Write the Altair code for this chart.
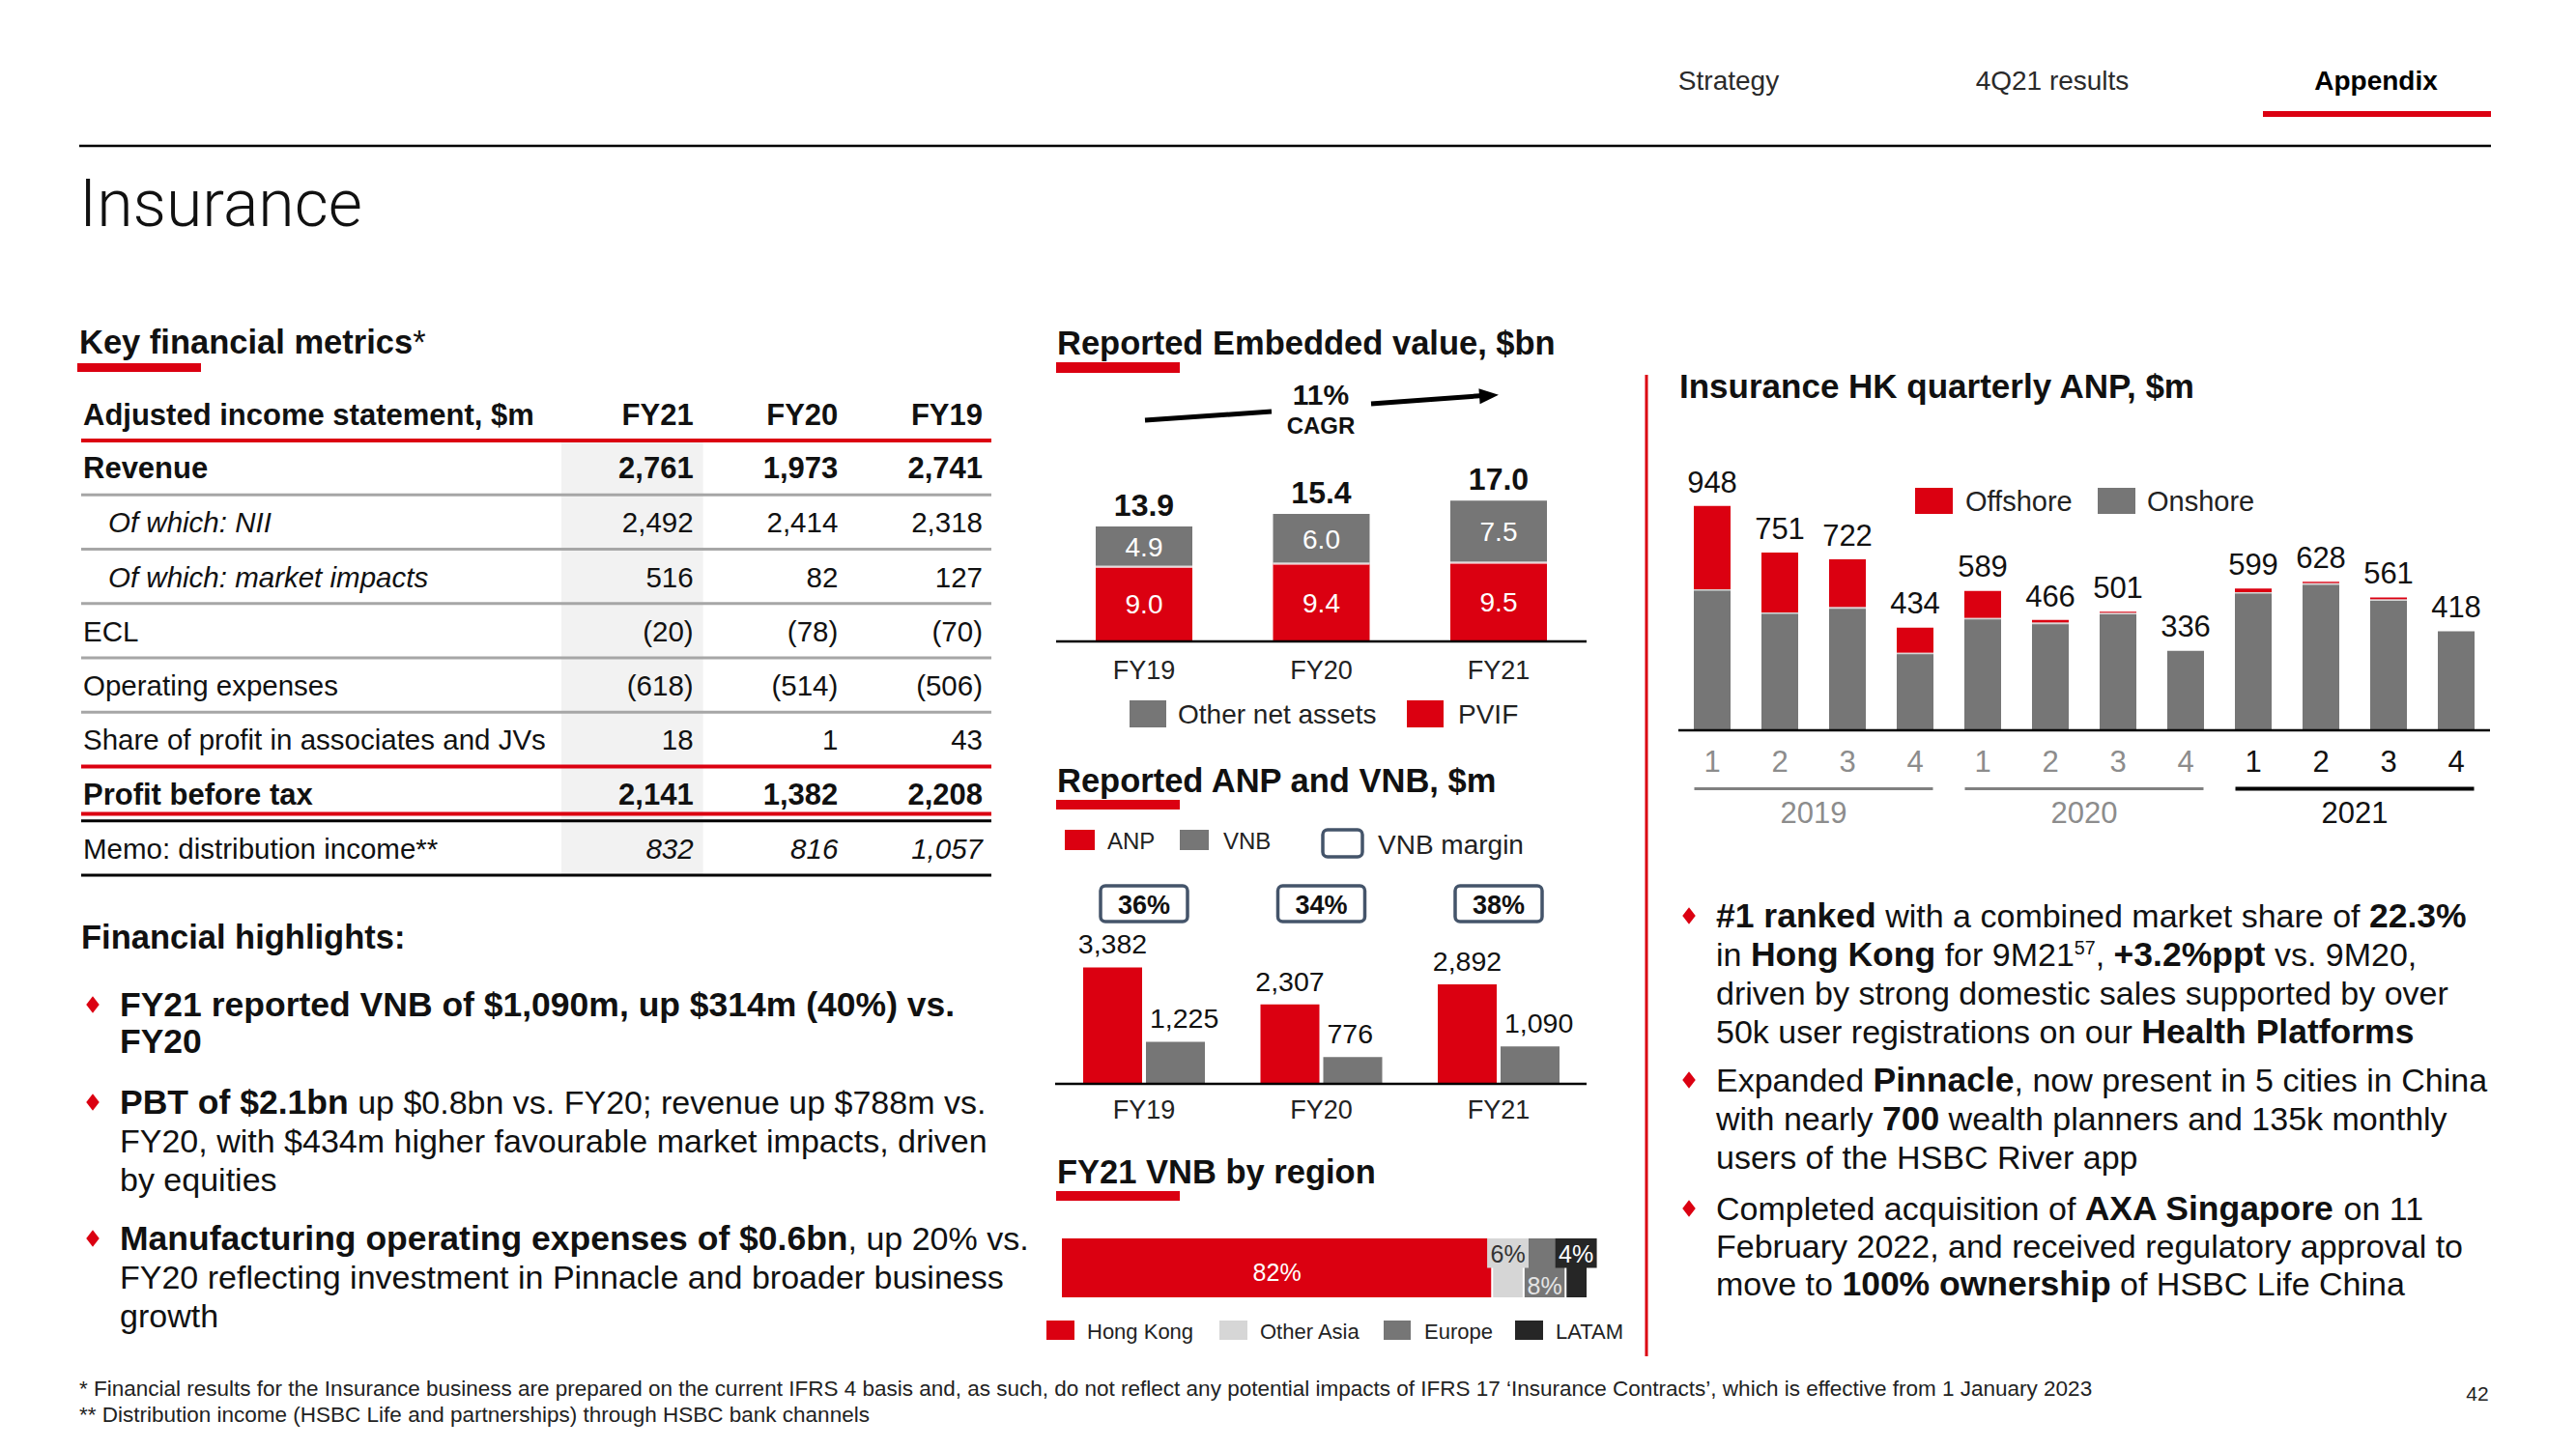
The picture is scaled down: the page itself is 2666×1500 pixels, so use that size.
import altair as alt
import pandas as pd

# ====================== DATA ======================
table_rows = ["Revenue", "Of which: NII", "Of which: market impacts", "ECL",
              "Operating expenses", "Share of profit in associates and JVs",
              "Profit before tax", "Memo: distribution income**"]
table_cols = ["FY21", "FY20", "FY19"]
fy21_vals = [2761, 2492, 516, -20, -618, 18, 2141, 832]
fy20_vals = [1973, 2414, 82, -78, -514, 1, 1382, 816]
fy19_vals = [2741, 2318, 127, -70, -506, 43, 2208, 1057]

ev_years = ["FY19", "FY20", "FY21"]
ev_pvif = [9.0, 9.4, 9.5]
ev_other = [4.9, 6.0, 7.5]
ev_total = [13.9, 15.4, 17.0]

anp_years = ["FY19", "FY20", "FY21"]
anp_vals = [3382, 2307, 2892]
vnb_vals = [1225, 776, 1090]
vnb_margin = [36, 34, 38]

regions = ["Hong Kong", "Other Asia", "Europe", "LATAM"]
region_share = [82, 6, 8, 4]

hk_years = ["2019"] * 4 + ["2020"] * 4 + ["2021"] * 4
hk_quarters = ["1", "2", "3", "4"] * 3
hk_total = [948, 751, 722, 434, 589, 466, 501, 336, 599, 628, 561, 418]
hk_onshore = [596, 498, 520, 328, 475, 455, 496, 336, 584, 621, 553, 418]
hk_offshore = [352, 253, 202, 106, 114, 11, 5, 0, 15, 7, 8, 0]

# ====================== STYLE ======================
FONT = "Liberation Sans"
RED = "#DB0011"
GREY = "#767676"
LIGHT = "#D6D6D6"
DARK = "#262626"
SLATE = "#44546A"
SHADE = "#F2F2F2"
RULE_GREY = "#A6A6A6"
INK = "#111111"
OFF = 8
W, H = 2640, 1476


def P(v):
    return v - OFF


REG_W = [278, 278, 355, 556, 556, 889, 667, 191, 333, 333, 389, 584, 278, 333, 278, 278,
         556, 556, 556, 556, 556, 556, 556, 556, 556, 556, 278, 278, 584, 584, 584, 556,
         1015, 667, 667, 722, 722, 667, 611, 778, 722, 278, 500, 667, 556, 833, 722, 778,
         667, 778, 722, 667, 611, 722, 667, 944, 667, 667, 611, 278, 278, 278, 469, 556,
         333, 556, 556, 500, 556, 556, 278, 556, 556, 222, 222, 500, 222, 833, 556, 556,
         556, 556, 333, 500, 278, 556, 500, 722, 500, 500, 500, 334, 260, 334, 584]
BOLD_W = [278, 333, 474, 556, 556, 889, 722, 238, 333, 333, 389, 584, 278, 333, 278, 278,
          556, 556, 556, 556, 556, 556, 556, 556, 556, 556, 333, 333, 584, 584, 584, 611,
          975, 722, 722, 722, 722, 667, 611, 778, 722, 278, 556, 722, 611, 833, 722, 778,
          667, 778, 722, 667, 611, 722, 667, 944, 667, 667, 611, 333, 278, 333, 584, 556,
          333, 556, 611, 556, 611, 556, 333, 611, 611, 278, 278, 556, 278, 889, 611, 611,
          611, 611, 389, 556, 333, 611, 556, 778, 556, 556, 500, 389, 280, 389, 584]


def tw(s, bold=False):
    tab = BOLD_W if bold else REG_W
    tot = 0
    for ch in s:
        o = ord(ch)
        if 32 <= o <= 126:
            tot += tab[o - 32]
        elif ch in "\u2018\u2019":
            tot += 278 if bold else 222
        else:
            tot += 556
    return tot / 1000.0


# ---------------- text / decoration tables ----------------
TEXTS = []


def text_at(x, base, s, size, color=INK, weight="normal", style="normal", align="left", font=FONT):
    TEXTS.append(dict(x=P(x), y=P(base), t=s, size=size, color=color, weight=str(weight),
                      style=style, align=align, font=font))


def text_c(x, yc, s, size, **kw):
    text_at(x, yc + 0.36 * size, s, size, **kw)


def rich(x0, yc, segs, size, bsize=None, color=INK):
    bsize = bsize or size
    base = yc + 0.36 * size
    x = x0
    for s, kind in segs:
        if kind == "sup":
            fs = round(size * 0.58, 1)
            text_at(x, base - 0.36 * size, s, fs, color=color)
            x += tw(s) * fs
            continue
        bold = kind == "b"
        fs = bsize if bold else size
        lead = len(s) - len(s.lstrip(" "))
        trail = len(s) - len(s.rstrip(" "))
        core = s.strip(" ")
        x += tw(" " * lead, bold) * fs
        if core:
            text_at(x, base, core, fs, color=color, weight="bold" if bold else "normal")
        x += (tw(core, bold) + tw(" " * trail, bold)) * fs


RECTS = []


def rect(x0, y0, x1, y1, c):
    RECTS.append(dict(x=P(x0), y=P(y0), x2=P(x1), y2=P(y1), c=c))


LINES = []


def line(x0, y0, x1, y1, c, w):
    LINES.append(dict(x=P(x0), y=P(y0), x2=P(x1), y2=P(y1), c=c, w=w))


# header / nav
text_c(1789, 83, "Strategy", 28, color="#2a2a2a", align="center")
text_c(2124, 83, "4Q21 results", 28, color="#2a2a2a", align="center")
text_c(2459, 83, "Appendix", 28, color="#000000", weight="bold", align="center")
rect(2342, 115, 2578, 121, RED)
line(82, 151, 2578, 151, "#000000", 2.5)
text_c(82, 210, "Insurance", 68, color="#111111", weight=300, font="Roboto")

# section titles
rich(82, 354, [("Key financial metrics", "b"), ("*", "r")], 34.5)
rect(80, 376, 208, 385, RED)
text_c(1094, 355, "Reported Embedded value, $bn", 34.5, weight="bold")
rect(1093, 375, 1221, 386, RED)
text_c(1094, 808, "Reported ANP and VNB, $m", 34.5, weight="bold")
rect(1093, 828, 1221, 838, RED)
text_c(1094, 1213, "FY21 VNB by region", 34.5, weight="bold")
rect(1093, 1233, 1221, 1243, RED)
text_c(1738, 399, "Insurance HK quarterly ANP, $m", 35, weight="bold")
line(1704, 388, 1704, 1404, RED, 3)

# EV annotations + legend
text_c(1367, 408, "11%", 30, weight="bold", align="center")
text_c(1367, 440, "CAGR", 24, weight="bold", align="center")
line(1185, 435, 1316, 426, "#000000", 5)
line(1419, 418, 1535, 409.5, "#000000", 5)
rect(1169, 725, 1207, 753, GREY)
text_c(1219, 739, "Other net assets", 28, color="#222222")
rect(1456, 725, 1494, 753, RED)
text_c(1509, 739, "PVIF", 28, color="#222222")

# ANP legend
rect(1102, 859, 1133, 880, RED)
text_c(1146, 870, "ANP", 24, color="#222222")
rect(1221, 859, 1251, 880, GREY)
text_c(1266, 870, "VNB", 24, color="#222222")
text_c(1426, 874, "VNB margin", 28, color="#222222")

# region legend
for (x0, x1, c), (tx, lab) in zip(
        [(1083, 1112, RED), (1262, 1291, LIGHT), (1432, 1460, GREY), (1568, 1597, DARK)],
        [(1125, regions[0]), (1304, regions[1]), (1474, regions[2]), (1610, regions[3])]):
    rect(x0, 1367, x1, 1387, c)
    text_c(tx, 1378, lab, 22, color="#222222")

# HK legend
rect(1982, 505, 2021, 532, RED)
text_c(2034, 519, "Offshore", 29, color="#222222")
rect(2171, 505, 2210, 532, GREY)
text_c(2222, 519, "Onshore", 29, color="#222222")

# financial highlights
BS, BB = 34, 35.5
text_c(84, 970, "Financial highlights:", 34.5, weight="bold")
left_bullets = [
    (1040, [("FY21 reported VNB of $1,090m, up $314m (40%) vs.", "b")]),
    (1078, [("FY20", "b")]),
    (1141, [("PBT of $2.1bn", "b"), (" up $0.8bn vs. FY20; revenue up $788m vs.", "r")]),
    (1181, [("FY20, with $434m higher favourable market impacts, driven", "r")]),
    (1221, [("by equities", "r")]),
    (1282, [("Manufacturing operating expenses of $0.6bn", "b"), (", up 20% vs.", "r")]),
    (1322, [("FY20 reflecting investment in Pinnacle and broader business", "r")]),
    (1362, [("growth", "r")]),
]
for yc, segs in left_bullets:
    rich(124, yc, segs, BS, BB)

right_bullets = [
    (948, [("#1 ranked", "b"), (" with a combined market share of ", "r"), ("22.3%", "b")]),
    (988, [("in ", "r"), ("Hong Kong", "b"), (" for 9M21", "r"), ("57", "sup"), (", ", "r"),
           ("+3.2%ppt", "b"), (" vs. 9M20,", "r")]),
    (1028, [("driven by strong domestic sales supported by over", "r")]),
    (1068, [("50k user registrations on our ", "r"), ("Health Platforms", "b")]),
    (1118, [("Expanded ", "r"), ("Pinnacle", "b"), (", now present in 5 cities in China", "r")]),
    (1158, [("with nearly ", "r"), ("700", "b"), (" wealth planners and 135k monthly", "r")]),
    (1198, [("users of the HSBC River app", "r")]),
    (1251, [("Completed acquisition of ", "r"), ("AXA Singapore", "b"), (" on 11", "r")]),
    (1290, [("February 2022, and received regulatory approval to", "r")]),
    (1329, [("move to ", "r"), ("100% ownership", "b"), (" of HSBC Life China", "r")]),
]
for yc, segs in right_bullets:
    rich(1776, yc, segs, BS, BB)

DIAMONDS = [(96, 1040), (96, 1141), (96, 1282), (1748, 948), (1748, 1118), (1748, 1251)]

# footnotes
fn1 = ("* Financial results for the Insurance business are prepared on the current IFRS 4 basis and, "
       "as such, do not reflect any potential impacts of IFRS 17 \u2018Insurance Contracts\u2019, "
       "which is effective from 1 January 2023")
fn2 = "** Distribution income (HSBC Life and partnerships) through HSBC bank channels"
fn_size = round(2084 / tw(fn1), 1)
text_c(82, 1437, fn1, fn_size, color="#222222")
text_c(82, 1464, fn2, fn_size, color="#222222")
text_c(2564, 1442, "42", 21, color="#222222", align="center")

# ====================== TABLE ======================
value_style = ["bold", "normal", "normal", "normal", "normal", "normal", "bold", "italic"]
label_style = ["bold", "italic", "italic", "normal", "normal", "normal", "bold", "normal"]
HEADER_R = -0.48
TAB_SIZE = {"bold": 31, "normal": 29.5, "italic": 29.5}


def fmt(v):
    return f"({abs(v):,})" if v < 0 else f"{v:,}"


val_rows = []
for i in range(len(table_rows)):
    for c, vals in zip(table_cols, (fy21_vals, fy20_vals, fy19_vals)):
        val_rows.append({"r": i + 0.5, "col": c, "t": fmt(vals[i]), "sty": value_style[i]})
for c in table_cols:
    val_rows.append({"r": HEADER_R, "col": c, "t": c, "sty": "bold"})
val_df = pd.DataFrame(val_rows)

lab_rows = [{"r": i + 0.5, "t": t, "sty": label_style[i]} for i, t in enumerate(table_rows)]
lab_rows.append({"r": HEADER_R, "t": "Adjusted income statement, $m", "sty": "bold"})
lab_df = pd.DataFrame(lab_rows)

rule_df = pd.DataFrame({
    "b": [0, 1, 2, 3, 4, 5, 6, 6.87, 7.0, 8],
    "c": [RED, RULE_GREY, RULE_GREY, RULE_GREY, RULE_GREY, RULE_GREY, RED, RED, "#000000", "#000000"],
    "w": [4, 3, 3, 3, 3, 3, 4, 4, 3, 3],
})
shade_df = pd.DataFrame({"col": ["FY21"], "r0": [0], "r1": [8]})

tab_x = alt.Scale(domain=table_cols, range=[P(581), P(1027)], paddingInner=0.02, paddingOuter=0)
tab_y = alt.Scale(domain=[0, 8], range=[P(456), P(906)], nice=False)

tab_layers = [
    alt.Chart(shade_df).mark_rect(color=SHADE).encode(
        x=alt.X("col:N", scale=tab_x, axis=None), y=alt.Y("r0:Q", scale=tab_y, axis=None), y2="r1:Q"),
    alt.Chart(rule_df).mark_rule().encode(
        y=alt.Y("b:Q", scale=tab_y, axis=None), x=alt.value(P(84)), x2=alt.value(P(1026)),
        color=alt.Color("c:N", scale=None), strokeWidth=alt.StrokeWidth("w:Q", scale=None)),
]
for sty in ["bold", "normal", "italic"]:
    tab_layers.append(
        alt.Chart(val_df).transform_filter(alt.datum.sty == sty).mark_text(
            align="right", baseline="middle", dx=-10, dy=2, fontSize=TAB_SIZE[sty], font=FONT, color=INK,
            fontWeight="bold" if sty == "bold" else "normal",
            fontStyle="italic" if sty == "italic" else "normal").encode(
            x=alt.X("col:N", scale=tab_x, axis=None, bandPosition=1),
            y=alt.Y("r:Q", scale=tab_y, axis=None), text="t:N"))
    tab_layers.append(
        alt.Chart(lab_df).transform_filter(alt.datum.sty == sty).mark_text(
            align="left", baseline="middle", dy=2, fontSize=TAB_SIZE[sty], font=FONT, color=INK,
            fontWeight="bold" if sty == "bold" else "normal",
            fontStyle="italic" if sty == "italic" else "normal").encode(
            x=alt.value(P(112) if sty == "italic" else P(86)),
            y=alt.Y("r:Q", scale=tab_y, axis=None), text="t:N"))
table_layer = alt.layer(*tab_layers)

# ====================== EMBEDDED VALUE ======================
ev_x = alt.Scale(domain=ev_years, range=[P(1092.25), P(1642.75)], paddingInner=0.455, paddingOuter=0.2275)
ev_y = alt.Scale(domain=[0, 20], range=[P(664), P(664 - 171.4)], nice=False)
seg_rows = []
for i, yr in enumerate(ev_years):
    seg_rows.append(dict(year=yr, part="PVIF", y0=0.0, y1=ev_pvif[i], c=RED, lab=f"{ev_pvif[i]:.1f}"))
    seg_rows.append(dict(year=yr, part="Other net assets", y0=ev_pvif[i], y1=ev_pvif[i] + ev_other[i],
                         c=GREY, lab=f"{ev_other[i]:.1f}"))
ev_seg = pd.DataFrame(seg_rows)
ev_seg["mid"] = (ev_seg["y0"] + ev_seg["y1"]) / 2
ev_tot = pd.DataFrame({"year": ev_years, "total": ev_total, "lab": [f"{v:.1f}" for v in ev_total]})
EVX = alt.X("year:N", scale=ev_x, axis=None)
ev_layer = alt.layer(
    alt.Chart(ev_seg).mark_bar().encode(
        x=EVX, y=alt.Y("y0:Q", scale=ev_y, axis=None), y2="y1:Q", color=alt.Color("c:N", scale=None)),
    alt.Chart(ev_seg).transform_filter(alt.datum.y0 > 0).mark_tick(color="white", thickness=2.5, size=100).encode(
        x=EVX, y=alt.Y("y0:Q", scale=ev_y, axis=None)),
    alt.Chart(ev_seg).mark_text(color="white", fontSize=28, baseline="middle", dy=2, font=FONT).encode(
        x=EVX, y=alt.Y("mid:Q", scale=ev_y), text="lab:N"),
    alt.Chart(ev_tot).mark_text(color=INK, fontSize=32, fontWeight="bold", baseline="middle", dy=-21, font=FONT).encode(
        x=EVX, y=alt.Y("total:Q", scale=ev_y), text="lab:N"),
    alt.Chart(ev_tot).mark_text(color="#222222", fontSize=27, baseline="middle", dy=31, font=FONT).encode(
        x=EVX, y=alt.datum(0), text="year:N"),
    alt.Chart(pd.DataFrame({"z": [0]})).mark_rule(color="#000000", strokeWidth=2.5).encode(
        y=alt.Y("z:Q", scale=ev_y), x=alt.value(P(1093)), x2=alt.value(P(1642))),
)

# ====================== ANP & VNB ======================
anp_x = alt.Scale(domain=anp_years, range=[P(1092.25), P(1642.75)], paddingInner=0.3134, paddingOuter=0.1567)
anp_xo = alt.Scale(domain=["ANP", "VNB"], paddingInner=0.0615, paddingOuter=0)
anp_y = alt.Scale(domain=[0, 4000], range=[P(1122), P(1122 - 142.4)], nice=False)
anp_df = pd.DataFrame({"year": anp_years * 2, "series": ["ANP"] * 3 + ["VNB"] * 3, "v": anp_vals + vnb_vals})
anp_df["lab"] = anp_df["v"].map(lambda v: f"{v:,}")
anp_df["c"] = anp_df["series"].map({"ANP": RED, "VNB": GREY})
mar_df = pd.DataFrame({"year": anp_years, "lab": [f"{m}%" for m in vnb_margin]})
AX = alt.X("year:N", scale=anp_x, axis=None)
AXO = alt.XOffset("series:N", scale=anp_xo)
anp_layer = alt.layer(
    alt.Chart(anp_df).mark_bar().encode(
        x=AX, xOffset=AXO, y=alt.Y("v:Q", scale=anp_y, axis=None), color=alt.Color("c:N", scale=None)),
    alt.Chart(anp_df).transform_filter(alt.datum.series == "ANP").mark_text(
        color=INK, fontSize=28.5, baseline="middle", dy=-23.3, font=FONT).encode(
        x=AX, xOffset=AXO, y=alt.Y("v:Q", scale=anp_y), text="lab:N"),
    alt.Chart(anp_df).transform_filter(alt.datum.series == "VNB").mark_text(
        color=INK, fontSize=28.5, baseline="middle", align="left", dx=-26.5, dy=-23.3, font=FONT).encode(
        x=AX, xOffset=AXO, y=alt.Y("v:Q", scale=anp_y), text="lab:N"),
    alt.Chart(mar_df).mark_text(color="#222222", fontSize=27, baseline="middle", dy=27.6, font=FONT).encode(
        x=AX, y=alt.datum(0), text="year:N"),
    alt.Chart(mar_df).mark_bar(width=90, cornerRadius=5, fill="white", stroke=SLATE, strokeWidth=3.5).encode(
        x=AX, y=alt.value(P(917)), y2=alt.value(P(954))),
    alt.Chart(mar_df).mark_text(color=INK, fontSize=27, fontWeight="bold", baseline="middle", font=FONT).encode(
        x=AX, y=alt.value(P(937.5)), text="lab:N"),
    alt.Chart(pd.DataFrame({"z": [0]})).mark_rule(color="#000000", strokeWidth=2.5).encode(
        y=alt.Y("z:Q", scale=anp_y), x=alt.value(P(1092)), x2=alt.value(P(1642))),
)

# ====================== VNB BY REGION ======================
REGION_COLORS = [RED, LIGHT, GREY, DARK]
LABEL_Y = [0.43, 0.75, 0.2, 0.75]
LABEL_COLORS = ["#FFFFFF", "#333333", "#E4E4E4", "#FFFFFF"]
BOXED = [False, True, False, True]
BOX_HALF = 3.95
reg_df = pd.DataFrame({"region": regions, "share": region_share})
reg_df["x1"] = reg_df["share"].cumsum()
reg_df["x0"] = reg_df["x1"] - reg_df["share"]
reg_df["mid"] = (reg_df["x0"] + reg_df["x1"]) / 2
reg_df["bx0"] = reg_df["mid"] - BOX_HALF
reg_df["bx1"] = reg_df["mid"] + BOX_HALF
reg_df["c"] = REGION_COLORS
reg_df["ly"] = LABEL_Y
reg_df["lc"] = LABEL_COLORS
reg_df["boxed"] = BOXED
reg_df["y0"] = 0.0
reg_df["y1"] = 1.0
reg_df["yb"] = 0.5
reg_df["lab"] = reg_df["share"].map(lambda v: f"{v}%")
reg_x = alt.Scale(domain=[0, 100], range=[P(1099), P(1642)], nice=False)
reg_y = alt.Scale(domain=[0, 1], range=[P(1343), P(1282)], nice=False)
reg_layer = alt.layer(
    alt.Chart(reg_df).mark_rect().encode(
        x=alt.X("x0:Q", scale=reg_x, axis=None), x2="x1:Q",
        y=alt.Y("y0:Q", scale=reg_y, axis=None), y2="y1:Q", color=alt.Color("c:N", scale=None)),
    alt.Chart(reg_df).transform_filter(alt.datum.x0 > 0).mark_rule(color="white", strokeWidth=2).encode(
        x=alt.X("x0:Q", scale=reg_x), y=alt.Y("y0:Q", scale=reg_y), y2="y1:Q"),
    alt.Chart(reg_df).transform_filter(alt.datum.boxed).mark_rect().encode(
        x=alt.X("bx0:Q", scale=reg_x), x2="bx1:Q",
        y=alt.Y("yb:Q", scale=reg_y), y2="y1:Q", color=alt.Color("c:N", scale=None)),
    alt.Chart(reg_df).mark_text(fontSize=25, baseline="middle", dy=1.5, font=FONT).encode(
        x=alt.X("mid:Q", scale=reg_x), y=alt.Y("ly:Q", scale=reg_y), text="lab:N",
        color=alt.Color("lc:N", scale=None)),
)

# ====================== HK QUARTERLY ANP ======================
YEAR_COLORS = {"2019": "#8C8C8C", "2020": "#8C8C8C", "2021": "#111111"}
hk_df = pd.DataFrame({"qid": [f"{y}Q{q}" for y, q in zip(hk_years, hk_quarters)], "year": hk_years,
                      "q": hk_quarters, "total": hk_total, "on": hk_onshore, "off": hk_offshore})
hk_df["top"] = hk_df["on"] + hk_df["off"]
hk_df["qc"] = hk_df["year"].map(YEAR_COLORS)
hk_x = alt.Scale(domain=list(hk_df["qid"]), range=[P(1737), P(2577)], paddingInner=0.457, paddingOuter=0.2285)
hk_y = alt.Scale(domain=[0, 1000], range=[P(756), P(511)], nice=False)
HX = alt.X("qid:N", scale=hk_x, axis=None, sort=None)
hk_layer = alt.layer(
    alt.Chart(hk_df).mark_bar(color=GREY).encode(x=HX, y=alt.Y("on:Q", scale=hk_y, axis=None)),
    alt.Chart(hk_df).transform_filter(alt.datum.off > 0).mark_bar(color=RED).encode(
        x=HX, y=alt.Y("on:Q", scale=hk_y), y2="top:Q"),
    alt.Chart(hk_df).transform_filter(alt.datum.off > 0).mark_tick(
        color="white", thickness=1.6, size=38, yOffset=0.8).encode(x=HX, y=alt.Y("on:Q", scale=hk_y)),
    alt.Chart(hk_df).mark_text(color=INK, fontSize=31, baseline="middle", dy=-23.2, font=FONT).encode(
        x=HX, y=alt.Y("total:Q", scale=hk_y), text="total:Q"),
    alt.Chart(hk_df).mark_text(fontSize=31, baseline="middle", dy=33.8, font=FONT).encode(
        x=HX, y=alt.datum(0), text="q:N", color=alt.Color("qc:N", scale=None)),
    alt.Chart(pd.DataFrame({"z": [0]})).mark_rule(color="#000000", strokeWidth=2.5).encode(
        y=alt.Y("z:Q", scale=hk_y), x=alt.value(P(1737)), x2=alt.value(P(2577))),
)

yr_df = pd.DataFrame({"year": ["2019", "2020", "2021"]})
yr_df["c"] = ["#808080", "#808080", "#000000"]
yr_df["lc"] = yr_df["year"].map(YEAR_COLORS)
yr_df["u0"] = [P(815), P(815), P(814.5)]
yr_df["u1"] = [P(818), P(818), P(818.5)]
yr_x = alt.Scale(domain=list(yr_df["year"]), range=[P(1737), P(2577)], paddingInner=0.1179, paddingOuter=0.0589)
YX = alt.X("year:N", scale=yr_x, axis=None)
yr_layer = alt.layer(
    alt.Chart(yr_df).mark_bar().encode(
        x=YX, y=alt.Y("u0:Q", scale=None), y2="u1:Q", color=alt.Color("c:N", scale=None)),
    alt.Chart(yr_df).mark_text(fontSize=31, baseline="alphabetic", font=FONT).encode(
        x=YX, y=alt.value(P(841 + 0.36 * 31)), text="year:N", color=alt.Color("lc:N", scale=None)),
)

# ====================== DECORATION LAYERS ======================
rect_layer = alt.Chart(pd.DataFrame(RECTS)).mark_rect().encode(
    x=alt.X("x:Q", scale=None), x2="x2:Q", y=alt.Y("y:Q", scale=None), y2="y2:Q",
    color=alt.Color("c:N", scale=None))
line_layer = alt.Chart(pd.DataFrame(LINES)).mark_rule().encode(
    x=alt.X("x:Q", scale=None), x2="x2:Q", y=alt.Y("y:Q", scale=None), y2="y2:Q",
    color=alt.Color("c:N", scale=None), strokeWidth=alt.StrokeWidth("w:Q", scale=None))
diamond_layer = alt.Chart(pd.DataFrame({"x": [P(a) for a, b in DIAMONDS], "y": [P(b) for a, b in DIAMONDS]})).mark_point(
    shape="M0,-1L0.78,0L0,1L-0.78,0Z", filled=True, size=300, color=RED, opacity=1).encode(
    x=alt.X("x:Q", scale=None), y=alt.Y("y:Q", scale=None))
arrow_layer = alt.Chart(pd.DataFrame({"x": [P(1541)], "y": [P(409.5)]})).mark_point(
    shape="M-1,-0.8L1,0L-1,0.8Z", filled=True, size=400, color="#000000", opacity=1, angle=355.8).encode(
    x=alt.X("x:Q", scale=None), y=alt.Y("y:Q", scale=None))
mbox_layer = alt.Chart(pd.DataFrame({"x": [P(1369)], "x2": [P(1410)], "y": [P(859)], "y2": [P(887)]})).mark_rect(
    fill="white", stroke=SLATE, strokeWidth=3.5, cornerRadius=5).encode(
    x=alt.X("x:Q", scale=None), x2="x2:Q", y=alt.Y("y:Q", scale=None), y2="y2:Q")

tdf = pd.DataFrame(TEXTS)
text_layers = []
for (wt, st, al, fo), g in tdf.groupby(["weight", "style", "align", "font"], sort=False):
    fw = int(wt) if wt.isdigit() else wt
    text_layers.append(
        alt.Chart(g.reset_index(drop=True)).mark_text(
            baseline="alphabetic", align=al, font=fo, fontWeight=fw, fontStyle=st).encode(
            x=alt.X("x:Q", scale=None), y=alt.Y("y:Q", scale=None), text="t:N",
            size=alt.Size("size:Q", scale=None), color=alt.Color("color:N", scale=None)))

layers = [rect_layer, table_layer, ev_layer, anp_layer, reg_layer, hk_layer, yr_layer,
          line_layer, diamond_layer, arrow_layer, mbox_layer] + text_layers

chart = alt.layer(*layers).resolve_scale(
    x="independent", y="independent", xOffset="independent", color="independent",
    size="independent", strokeWidth="independent"
).properties(
    width=W, height=H, padding=0, autosize=alt.AutoSizeParams(type="none"), background="white"
).configure_view(strokeWidth=0)

chart.save("out.html", embed_options={"renderer": "svg", "actions": False})
